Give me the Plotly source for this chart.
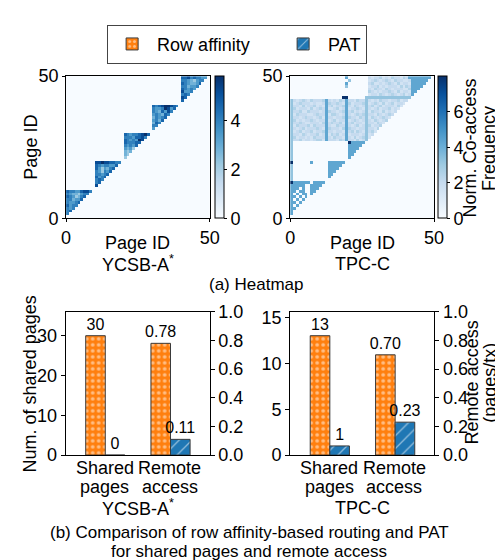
import numpy as np
import plotly.graph_objects as go

# ---------------- data ----------------
SERIES = ["Row affinity", "PAT"]
BAR_CATEGORIES = ["Shared pages", "Remote access"]
YCSB_SHARED_PAGES = [30, 0]
YCSB_REMOTE_ACCESS = [0.78, 0.11]
TPCC_SHARED_PAGES = [13, 1]
TPCC_REMOTE_ACCESS = [0.70, 0.23]
WORKLOADS = ["YCSB-A<sup>*</sup>", "TPC-C"]
PAGE_TICKS = [0, 50]

# YCSB-A heatmap: five 10-page diagonal blocks; block[k] = row (base+k), cols base..base+k-1
YCSB_LEVELS = {'.': 0, '1': 1.6, '2': 2.2, '3': 2.8, '4': 3.4, '5': 4.0, '6': 4.6, '7': 5.2, '8': 5.8}
YCSB_BLOCKS = [
    ["5", "56", "545", "6455", "54456", "553446", "6542356", "54332455", "655446775"],
    ["7", "56", "565", "6456", "55456", "542546", "6424356", "65455446", "778776655"],
    ["2", "32", "323", "4342", "54546", "655566", "6545487", "55546675", "654556786"],
    ["4", "55", "365", "4536", "35456", "454365", "5436475", "54458746", "656788765"],
    ["6", "76", "565", "7445", "65454", "553445", "6543346", "55432455", "667565544"],
]

# TPC-C heatmap: rows listed from page 49 (top) down to page 0
TPCC_LEVELS = {'.': 0, '1': 1.0, '2': 1.5, '3': 2.0, '4': 2.5, '5': 3.2, '6': 4.3, '7': 5.0, '8': 6.2, '9': 8.0}
TPCC_ROWS_TOP_DOWN = [
    "..... ..... ..... ....6 ..... ..323 34232 43324 36666 6666.",
    "..... ..... ..... ..... 5.... ..234 32343 24332 23666 666..",
    "..... ..... ..... ....6 ..... ..342 23234 32423 32666 66...",
    "..... ..... ..... ....5 ..... ..233 42323 33242 43666 6....",
    "..... ..... ..... ..... ..... ..324 33243 23332 24666 .....",
    "..... ..... ..... ..... ..... ..432 32334 32423 3266. .....",
    "..... ..... ..... ..... ..... ..233 24323 43234 236.. .....",
    "..... ..... ..... ...99 ..... .5555 55555 55555 55... .....",
    "53234 32433 34632 32436 33243 35323 24332 33423 3.... .....",
    "52343 33232 23643 34326 42333 45234 32423 42332 ..... .....",
    "53324 23342 32634 23346 32432 35342 34233 3242. ..... .....",
    "54233 32423 43622 34236 23343 25323 42334 232.. ..... .....",
    "53342 24333 23643 32346 34232 35243 32423 23... ..... .....",
    "52433 32234 33624 43236 32343 45332 43234 3.... ..... .....",
    "53323 43323 42633 23346 43324 35243 23432 ..... ..... .....",
    "54232 33432 33623 42336 23432 35324 3234. ..... ..... .....",
    "53343 22333 24634 33426 34233 25332 432.. ..... ..... .....",
    "52433 34243 33632 24336 32342 35423 34... ..... ..... .....",
    "53234 23334 32643 33246 43323 35332 4.... ..... ..... .....",
    "52342 33423 34633 23326 34243 25342 ..... ..... ..... .....",
    "53324 32334 23624 34236 23332 3523. ..... ..... ..... .....",
    "54233 23243 33632 43326 32423 452.. ..... ..... ..... .....",
    "53342 33234 42633 32436 33242 35... ..... ..... ..... .....",
    "5.... ..... ..... ..... 96666 6....",
    "5.... ..... ..... ..... 66666",
    "5.... ..... ..... ..... 6666.",
    "5.... ..... ..... ..... 666..",
    "5.... ..... ..... ..... 66...",
    "5.... ..... ..... ..... 6....",
    "5....",
    "9.... ..6.. ...66 6666.",
    "5.... ..... ...66 666..",
    "5.... ..... ...66 66...",
    "5.... ..... ...66 6....",
    "5.... ..... ...66",
    "5.... ..... ...6.",
    "5....",
    "96666 66.66 66...",
    "66666 ..666 6....",
    "666.6 ..666",
    "66.66 ..66.",
    "6.6.6 6.6..",
    "66.6. 6....",
    "6.6.6",
    "66.6.",
    "6.6..",
    "66...",
    "6....",
    "6....",
    "",
]

N_PAGES = 50


def build_ycsb():
    z = np.zeros((N_PAGES, N_PAGES))
    for b, block in enumerate(YCSB_BLOCKS):
        base = 10 * b
        for k, row in enumerate(block, start=1):
            for j, ch in enumerate(row):
                z[base + k, base + j] = YCSB_LEVELS[ch]
    return z


def build_tpcc():
    rows = []
    for s in reversed(TPCC_ROWS_TOP_DOWN):
        s = s.replace(" ", "").ljust(N_PAGES, ".")
        rows.append([TPCC_LEVELS[c] for c in s])
    return np.array(rows)


Z_YCSB = build_ycsb()
Z_TPCC = build_tpcc()

# ---------------- style ----------------
FONT = "Liberation Sans, Arial, sans-serif"
ORANGE = "#ff7f0e"
BLUE = "#1f77b4"
EDGE = "#3a3a3a"
BLUES = [
    [0.0, "#f7fbff"], [0.125, "#deebf7"], [0.25, "#c6dbef"], [0.375, "#9ecae1"],
    [0.5, "#6baed6"], [0.625, "#4292c6"], [0.75, "#2171b5"], [0.875, "#08519c"],
    [1.0, "#08306b"],
]
W, H = 503, 560


def px_x(p):
    return p / W


def px_y(p):
    return 1 - p / H


HM_Y = [px_y(207.7), px_y(60.3)]
HM_X1 = [px_x(54.7), px_x(202.7)]
HM_X2 = [px_x(285.7), px_x(434.0)]
BAR_Y = [px_y(453.3), px_y(304.7)]
BAR_X1 = [px_x(54.3), px_x(202.7)]
BAR_X2 = [px_x(285.7), px_x(434.3)]

fig = go.Figure()


def cbar(xleft, ticks):
    return dict(
        x=px_x(xleft), xanchor="left", xpad=0, ypad=0,
        y=(HM_Y[0] + HM_Y[1]) / 2, yanchor="middle",
        len=HM_Y[1] - HM_Y[0], lenmode="fraction", thickness=9,
        outlinewidth=1, outlinecolor="black",
        tickvals=ticks, ticks="outside", ticklen=3, tickcolor="black",
        tickfont=dict(size=18, color="black", family=FONT),
    )


fig.add_trace(go.Heatmap(
    z=Z_YCSB, x0=0.5, dx=1, y0=0.5, dy=1, colorscale=BLUES,
    zmin=0, zmax=float(Z_YCSB.max()), xaxis="x", yaxis="y",
    colorbar=cbar(207.7, [0, 2, 4]), hoverinfo="skip",
))
fig.add_trace(go.Heatmap(
    z=Z_TPCC, x0=0.5, dx=1, y0=0.5, dy=1, colorscale=BLUES,
    zmin=0, zmax=float(Z_TPCC.max()), xaxis="x2", yaxis="y2",
    colorbar=cbar(438.5, [0, 2, 4, 6]), hoverinfo="skip",
))

PATTERNS = [
    dict(shape=".", fgcolor="white", fillmode="overlay", size=6, solidity=0.3),
    dict(shape="/", fgcolor="white", fillmode="overlay", size=9, solidity=0.15),
]
COLORS = [ORANGE, BLUE]
OFFSETS = [-0.3, 0.0]
LEGEND_WIDTHS = [116, 0]

panels = [
    ("x3", "y3", "y4", YCSB_SHARED_PAGES, YCSB_REMOTE_ACCESS),
    ("x4", "y5", "y6", TPCC_SHARED_PAGES, TPCC_REMOTE_ACCESS),
]
for p, (xa, ya_l, ya_r, shared, remote) in enumerate(panels):
    for i, name in enumerate(SERIES):
        common = dict(
            name=name, legendgroup=name,
            marker=dict(color=COLORS[i], line=dict(color=EDGE, width=1), pattern=PATTERNS[i]),
            offset=OFFSETS[i], width=0.3, textposition="outside", cliponaxis=False,
            constraintext="none",
            textfont=dict(size=16, color="black", family=FONT), hoverinfo="skip",
        )
        fig.add_trace(go.Bar(
            x=[BAR_CATEGORIES[0]], y=[shared[i]], text=[f"{shared[i]}"],
            xaxis=xa, yaxis=ya_l, showlegend=(p == 0), legendwidth=LEGEND_WIDTHS[i], **common,
        ))
        fig.add_trace(go.Bar(
            x=[BAR_CATEGORIES[1]], y=[remote[i]], text=[f"{remote[i]:.2f}"],
            xaxis=xa, yaxis=ya_r, showlegend=False, **common,
        ))

tickfont = dict(size=18, color="black", family=FONT)
hm_axis = dict(
    range=[0, N_PAGES], tickvals=PAGE_TICKS, ticks="outside", ticklen=3, tickcolor="black",
    showline=True, linecolor="black", linewidth=1, mirror=True, showgrid=False,
    zeroline=False, tickfont=tickfont,
)
bar_x = dict(
    type="category", categoryorder="array", categoryarray=BAR_CATEGORIES,
    range=[-0.607, 1.6], showline=True, linecolor="black", linewidth=1, mirror=True,
    ticks="", showgrid=False, showticklabels=False,
)
bar_y = dict(
    ticks="outside", ticklen=4, tickcolor="black", showline=True, linecolor="black",
    linewidth=1, showgrid=False, zeroline=False, tickfont=tickfont,
)

fig.update_layout(
    width=W, height=H, margin=dict(l=0, r=0, t=0, b=0),
    paper_bgcolor="white", plot_bgcolor="white",
    font=dict(family=FONT, color="black"),
    barmode="overlay",
    xaxis=dict(domain=HM_X1, anchor="y", **hm_axis),
    yaxis=dict(domain=HM_Y, anchor="x", **hm_axis),
    xaxis2=dict(domain=HM_X2, anchor="y2", **hm_axis),
    yaxis2=dict(domain=HM_Y, anchor="x2", **hm_axis),
    xaxis3=dict(domain=BAR_X1, anchor="y3", **bar_x),
    yaxis3=dict(domain=BAR_Y, anchor="x3", range=[0, 36], tickvals=[0, 10, 20, 30], **bar_y),
    yaxis4=dict(overlaying="y3", anchor="x3", side="right", range=[0, 1.0],
                tickvals=[0, 0.2, 0.4, 0.6, 0.8, 1.0], tickformat=".1f", **bar_y),
    xaxis4=dict(domain=BAR_X2, anchor="y5", **bar_x),
    yaxis5=dict(domain=BAR_Y, anchor="x4", range=[0, 15.6], tickvals=[0, 5, 10, 15], **bar_y),
    yaxis6=dict(overlaying="y5", anchor="x4", side="right", range=[0, 1.0],
                tickvals=[0, 0.2, 0.4, 0.6, 0.8, 1.0], tickformat=".1f", **bar_y),
    legend=dict(
        orientation="h", x=px_x(231), xanchor="center", y=px_y(7), yanchor="top",
        bordercolor="#444", borderwidth=1, bgcolor="white",
        font=dict(size=18, color="black", family=FONT),
        itemwidth=40,
    ),
)


def note(text, x, y, size=18, angle=0):
    fig.add_annotation(
        text=text, x=px_x(x), y=px_y(y), xref="paper", yref="paper",
        showarrow=False, textangle=angle, xanchor="center", yanchor="middle",
        font=dict(size=size, color="black", family=FONT),
    )


# heatmap labels
note("Page ID", 19, 134, angle=-90)
note("Page ID", 128.7, 233)
note("Page ID", 360, 233)
note(WORKLOADS[0], 128.7, 255)
note(WORKLOADS[1], 360, 255)
note("(a) Heatmap", 250, 276, size=17)
note("Norm. Co-access", 471.5, 135, angle=-90)
note("Frequency", 490.5, 135, angle=-90)

# bar chart labels
note("Num. of shared pages", 18.5, 379, angle=-90)
note("Remote access", 473, 378, angle=-90)
note("(pages/tx)", 491, 378, angle=-90)
for cx in (0, 1):
    left = 54.3 if cx == 0 else 285.7
    for k, cat in enumerate(BAR_CATEGORIES):
        first, second = cat.split(" ")
        centre = left + (94.8 - 54.3) + k * 67.0
        note(first, centre, 467)
        note(second, centre, 486)
note(WORKLOADS[0], 128.5, 508)
note(WORKLOADS[1], 360, 508)
note("(b) Comparison of row affinity-based routing and PAT", 243.5, 534, size=17)
note("for shared pages and remote access", 243.5, 553, size=17)

fig.write_html("out.html")
